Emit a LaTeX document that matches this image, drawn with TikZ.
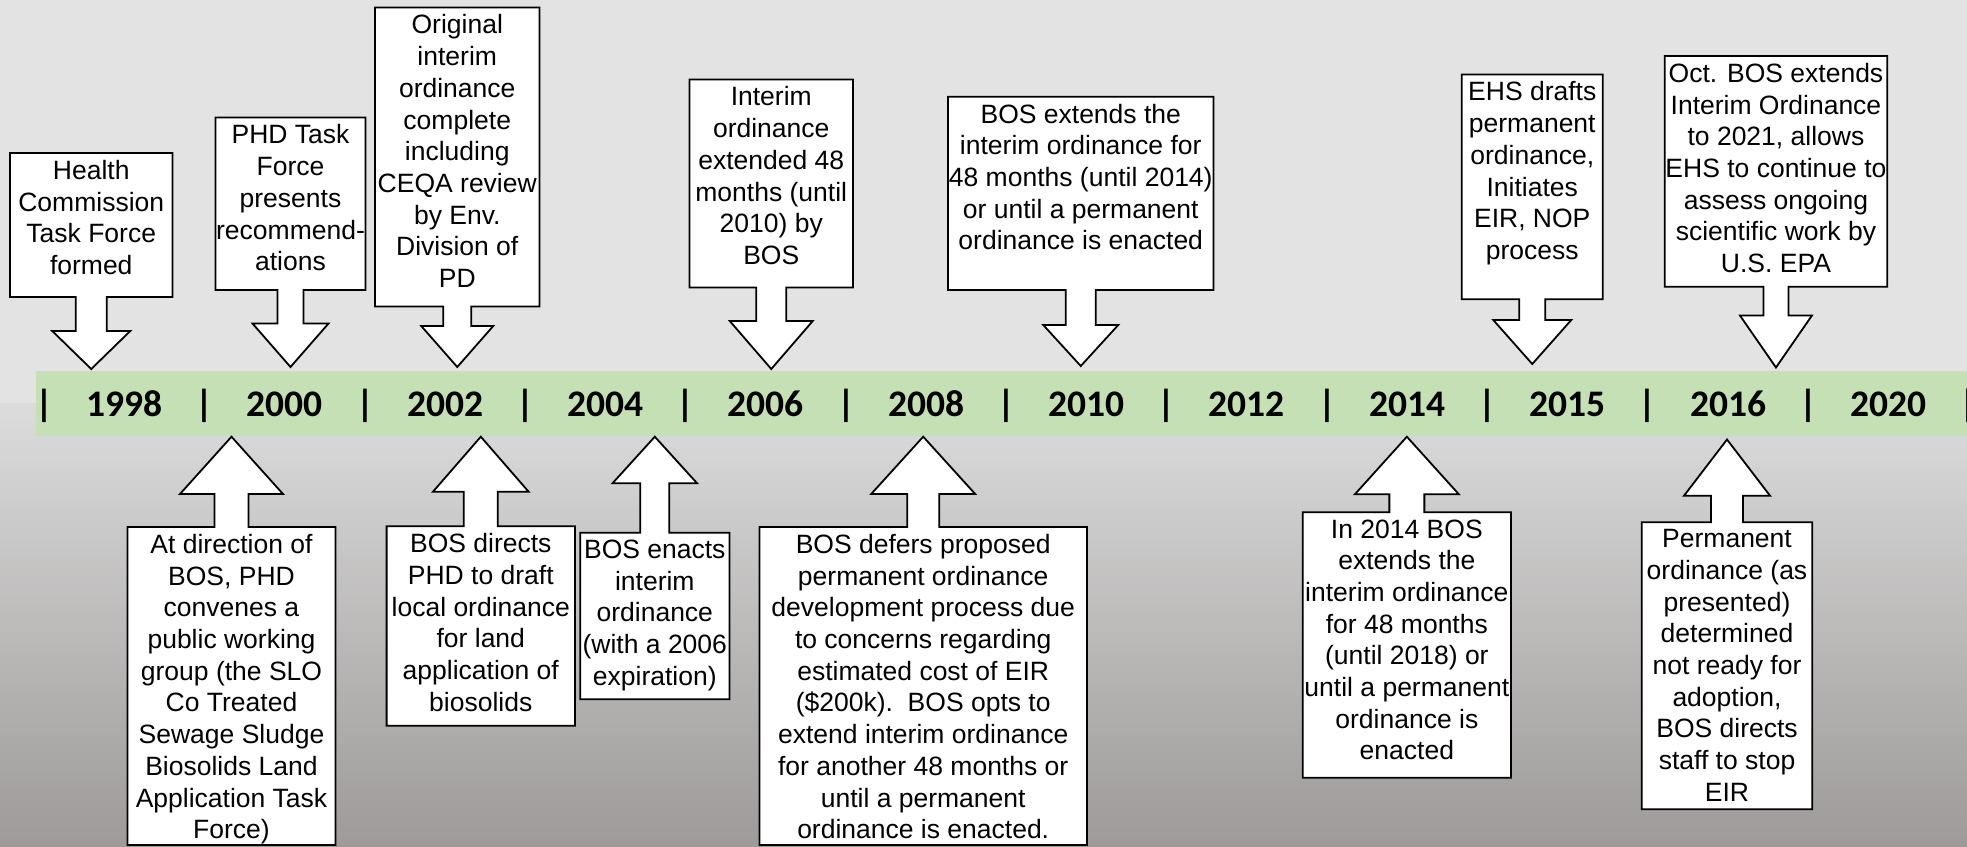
\documentclass[tikz,border=0pt]{standalone}
\usepackage{fontspec}
\setmainfont{Liberation Sans}
\newfontfamily\yearfont{Carlito}
\usetikzlibrary{positioning}
\definecolor{bgtop}{HTML}{E3E3E3}
\definecolor{bgmid}{HTML}{DCDCDC}
\definecolor{bgbot}{HTML}{9D9A99}
\definecolor{bandgreen}{HTML}{C5E0B4}

\begin{document}
\begin{tikzpicture}[x=1pt, y=-1pt]
    \tikzset{
        evtbox/.style={inner sep=0pt, outer sep=0pt},
        evttxt/.style={font=\fontsize{26.5}{31.7}\selectfont, align=center, inner sep=0pt},
        callout/.style={draw=black, fill=white, line width=1.8pt, line join=miter},
        yr/.style={font=\yearfont\bfseries\fontsize{37.5}{40}\selectfont, inner sep=0pt, anchor=base}
    }
    \useasboundingbox (0,0) rectangle (1967,846);
    \fill[bgtop] (0,0) rectangle (1967,404);
    \shade[top color=bgmid, bottom color=bgbot] (0,403) rectangle (1967,846);
    \node[fill=bandgreen, inner sep=0pt, outer sep=0pt, minimum width=1931pt, minimum height=64.7pt, anchor=north west] (axis) at (36,371) {};
    \foreach \yr [count=\i from 0] in {1998,2000,2002,2004,2006,2008,2010,2012,2014,2015,2016,2020}
        \node[yr] (y\yr) at (124.5+160.35*\i,416) {\yr};
    \foreach \i in {0,...,12}
        \node[yr] (bar\i) at (44.3+160.35*\i,416) {|};

    \node[evtbox, minimum width=162.5pt, minimum height=144pt] (top98) at (91.25,225) {};
    \node[evtbox, minimum width=150pt, minimum height=172.5pt] (top00) at (290.5,203.75) {};
    \node[evtbox, minimum width=164.5pt, minimum height=299pt] (top02) at (457.25,157) {};
    \node[evtbox, minimum width=163.5pt, minimum height=208pt] (top06) at (771.25,183.5) {};
    \node[evtbox, minimum width=265.5pt, minimum height=193.3pt] (top10) at (1080.75,193.35) {};
    \node[evtbox, minimum width=141.1pt, minimum height=224.8pt] (top15) at (1532.25,186.9) {};
    \node[evtbox, minimum width=222.5pt, minimum height=230.7pt] (top16) at (1775.95,171.35) {};
    \node[evtbox, minimum width=208pt, minimum height=318pt] (bot00) at (231.5,686) {};
    \node[evtbox, minimum width=188.4pt, minimum height=199.4pt] (bot02) at (480.8,626) {};
    \node[evtbox, minimum width=149.2pt, minimum height=166.5pt] (bot04) at (654.8,615.95) {};
    \node[evtbox, minimum width=327.6pt, minimum height=318pt] (bot08) at (923.2,686) {};
    \node[evtbox, minimum width=208.3pt, minimum height=265.4pt] (bot14) at (1406.85,645) {};
    \node[evtbox, minimum width=170.6pt, minimum height=287pt] (bot16) at (1727,665.8) {};

    \coordinate (tip98) at (91.25,369);
    \coordinate (tip00) at (290.5,367);
    \coordinate (tip02) at (457.25,367);
    \coordinate (tip06) at (771.25,369);
    \coordinate (tip10) at (1080.75,366);
    \coordinate (tip15) at (1532.25,364);
    \coordinate (tip16) at (1775.95,367.5);
    \coordinate (tip00b) at (231.5,436.7);
    \coordinate (tip02b) at (480.8,436.7);
    \coordinate (tip04b) at (654.8,436.7);
    \coordinate (tip08b) at (923.2,436.7);
    \coordinate (tip14b) at (1406.85,436.7);
    \coordinate (tip16b) at (1727,439.5);

    \foreach \bx/\tp/\sw/\hw/\hl in {top98/tip98/15.5/39/38, top00/tip00/13/38/43.5, top02/tip02/14/36/41,
            top06/tip06/15/41.5/48, top10/tip10/15/37.5/41, top15/tip15/13/39/44, top16/tip16/12.5/36/52}
        \draw[callout] (\bx.north west) -- (\bx.north east) -- (\bx.south east)
            -- ([xshift=\sw pt]\bx.south) -- ([xshift=\sw pt, yshift=\hl pt]\tp)
            -- ([xshift=\hw pt, yshift=\hl pt]\tp) -- (\tp)
            -- ([xshift=-\hw pt, yshift=\hl pt]\tp) -- ([xshift=-\sw pt, yshift=\hl pt]\tp)
            -- ([xshift=-\sw pt]\bx.south) -- (\bx.south west) -- cycle;
    \foreach \bx/\tp/\sw/\hw/\hl in {bot00/tip00b/17/51.5/57.3, bot02/tip02b/17/47.8/55, bot04/tip04b/14.5/42.3/46.6,
            bot08/tip08b/16/52/57.3, bot14/tip14b/17.5/52/57.6, bot16/tip16b/16/43/56.2}
        \draw[callout] (\bx.south west) -- (\bx.south east) -- (\bx.north east)
            -- ([xshift=\sw pt]\bx.north) -- ([xshift=\sw pt, yshift=-\hl pt]\tp)
            -- ([xshift=\hw pt, yshift=-\hl pt]\tp) -- (\tp)
            -- ([xshift=-\hw pt, yshift=-\hl pt]\tp) -- ([xshift=-\sw pt, yshift=-\hl pt]\tp)
            -- ([xshift=-\sw pt]\bx.north) -- (\bx.north west) -- cycle;

    \node[evttxt, below=7pt of top98.north] (top98txt) {Health\\Commission\\Task Force\\formed};
    \node[evttxt, below=7pt of top00.north] (top00txt) {PHD Task\\Force\\presents\\recommend-\\ations};
    \node[evttxt, below=7pt of top02.north] (top02txt) {Original\\interim\\ordinance\\complete\\including\\CEQA review\\by Env.\\Division of\\PD};
    \node[evttxt, below=7pt of top06.north] (top06txt) {Interim\\ordinance\\extended 48\\months (until\\2010) by\\BOS};
    \node[evttxt, below=7pt of top10.north] (top10txt) {BOS extends the\\interim ordinance for\\48 months (until 2014)\\or until a permanent\\ordinance is enacted};
    \node[evttxt, below=7pt of top15.north] (top15txt) {EHS drafts\\permanent\\ordinance,\\Initiates\\EIR, NOP\\process};
    \node[evttxt, below=7pt of top16.north] (top16txt) {Oct. BOS extends\\Interim Ordinance\\to 2021, allows\\EHS to continue to\\assess ongoing\\scientific work by\\U.S. EPA};
    \node[evttxt, below=7pt of bot00.north] (bot00txt) {At direction of\\BOS, PHD\\convenes a\\public working\\group (the SLO\\Co Treated\\Sewage Sludge\\Biosolids Land\\Application Task\\Force)};
    \node[evttxt, below=7pt of bot02.north] (bot02txt) {BOS directs\\PHD to draft\\local ordinance\\for land\\application of\\biosolids};
    \node[evttxt, below=7pt of bot04.north] (bot04txt) {BOS enacts\\interim\\ordinance\\(with a 2006\\expiration)};
    \node[evttxt, below=7pt of bot08.north] (bot08txt) {BOS defers proposed\\permanent ordinance\\development process due\\to concerns regarding\\estimated cost of EIR\\(\$200k).\ \ BOS opts to\\extend interim ordinance\\for another 48 months or\\until a permanent\\ordinance is enacted.};
    \node[evttxt, below=7pt of bot14.north] (bot14txt) {In 2014 BOS\\extends the\\interim ordinance\\for 48 months\\(until 2018) or\\until a permanent\\ordinance is\\enacted};
    \node[evttxt, below=7pt of bot16.north] (bot16txt) {Permanent\\ordinance (as\\presented)\\determined\\not ready for\\adoption,\\BOS directs\\staff to stop\\EIR};
\end{tikzpicture}
\end{document}
